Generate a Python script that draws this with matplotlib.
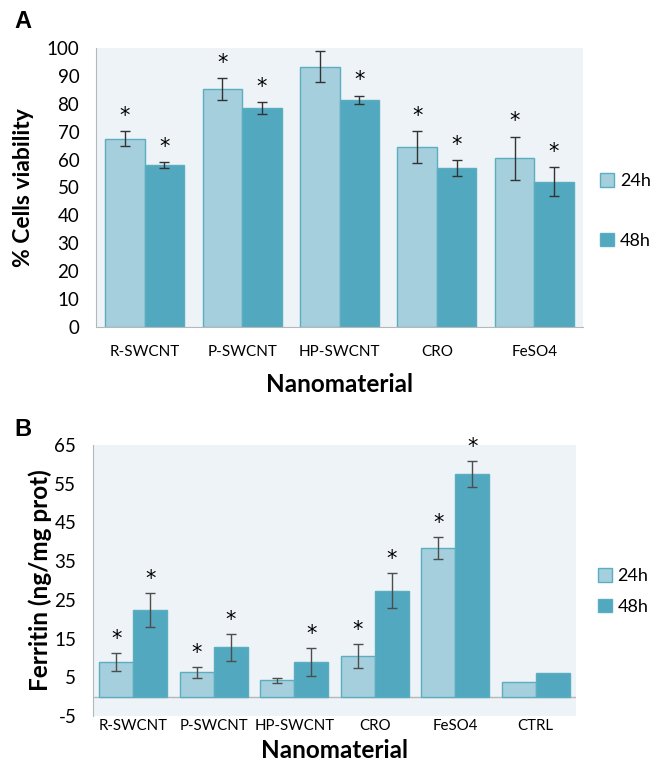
import numpy as np
import matplotlib
matplotlib.use("Agg")
import matplotlib.pyplot as plt

plt.rcParams['font.family'] = ['Lato', 'DejaVu Sans']
plt.rcParams['axes.unicode_minus'] = False

# panel A: cell viability
cats_a = ["R-SWCNT", "P-SWCNT", "HP-SWCNT", "CRO", "FeSO4"]
via_24 = [67.5, 85.3, 93.3, 64.4, 60.5]
via_24_err = [2.8, 4.0, 5.6, 5.7, 7.7]
via_48 = [58.0, 78.5, 81.5, 57.0, 52.0]
via_48_err = [1.0, 2.0, 1.4, 2.8, 5.2]
star_a_24 = [True, True, False, True, True]
star_a_48 = [True, True, True, True, True]

# panel B: ferritin
cats_b = ["R-SWCNT", "P-SWCNT", "HP-SWCNT", "CRO", "FeSO4", "CTRL"]
fer_24 = [9.0, 6.3, 4.2, 10.5, 38.4, 3.7]
fer_24_err = [2.3, 1.4, 0.7, 3.2, 2.8, 0]
fer_48 = [22.4, 12.8, 9.0, 27.4, 57.5, 6.0]
fer_48_err = [4.3, 3.5, 3.6, 4.5, 3.3, 0]
star_b_24 = [True, True, False, True, True, False]
star_b_48 = [True, True, True, True, True, False]

c24 = "#a6cfdd"
c48 = "#52a8bf"
edge = "#5aaebf"
bg = "#edf3f6"
spine = "#b5b8ba"

fig = plt.figure(figsize=(6.51, 7.63), dpi=100)


def panel(ax, cats, v24, e24, v48, e48, s24, s48, w, ecol, star_off):
    x = np.arange(len(cats))
    ax.set_facecolor(bg)
    ax.bar(x - w / 2, v24, w, color=c24, edgecolor=edge, linewidth=1, label="24h", zorder=2)
    ax.bar(x + w / 2, v48, w, color=c48, edgecolor=edge, linewidth=1, label="48h", zorder=2)
    for xs, v, e, s in [(x - w / 2, v24, e24, s24), (x + w / 2, v48, e48, s48)]:
        m = np.array(e) > 0
        ax.errorbar(xs[m], np.array(v)[m], yerr=np.array(e)[m], fmt="none",
                    ecolor=ecol, elinewidth=1, capsize=3.5, capthick=1, zorder=3)
        for xi, vi, ei, si in zip(xs, v, e, s):
            if si:
                ax.annotate("*", (xi, vi + ei), xytext=(0, star_off), textcoords="offset points",
                            ha="center", va="center", fontsize=15, family="DejaVu Sans", zorder=4)
    ax.set_xticks(x)
    ax.set_xticklabels(cats)
    ax.set_xlim(-0.5, len(cats) - 0.5)
    for k in ["top", "right"]:
        ax.spines[k].set_visible(False)
    ax.spines["left"].set_color(spine)
    ax.spines["bottom"].set_color(spine)
    ax.tick_params(axis="both", length=0)
    ax.tick_params(axis="y", labelsize=13.5, pad=12)
    ax.tick_params(axis="x", labelsize=11)
    ax.set_xlabel("Nanomaterial", fontsize=17.5, fontweight="bold")
    return x


ax1 = fig.add_axes([96 / 651, 1 - 327 / 763, 487 / 651, 279 / 763])
panel(ax1, cats_a, via_24, via_24_err, via_48, via_48_err, star_a_24, star_a_48, 0.405, "#333333", 11)
ax1.set_ylim(0, 100)
ax1.set_yticks(np.arange(0, 101, 10))
ax1.tick_params(axis="x", pad=13)
ax1.set_ylabel("% Cells viability", fontsize=16.5, fontweight="bold", labelpad=9)
ax1.xaxis.set_label_coords(0.5, -0.165)
ax1.legend(loc="center left", bbox_to_anchor=(1.02, 0.416), frameon=False, fontsize=13,
           handlelength=0.8, handleheight=0.8, handletextpad=0.3, labelspacing=2.4,
           borderaxespad=0)

ax2 = fig.add_axes([93 / 651, 1 - 716 / 763, 483 / 651, 271 / 763])
panel(ax2, cats_b, fer_24, fer_24_err, fer_48, fer_48_err, star_b_24, star_b_48, 0.42, "#4d4d4d", 10)
ax2.set_ylim(-5, 65)
ax2.set_yticks(np.arange(-5, 66, 10))
ax2.axhline(0, color=spine, linewidth=1, zorder=1)
ax2.spines["bottom"].set_visible(False)
ax2.tick_params(axis="x", pad=2, labelsize=10.8)
ax2.set_ylabel("Ferritin (ng/mg prot)", fontsize=17.5, fontweight="bold", labelpad=2)
ax2.xaxis.set_label_coords(0.5, -0.085)
ax2.legend(loc="center left", bbox_to_anchor=(1.03, 0.46), frameon=False, fontsize=13,
           handlelength=0.8, handleheight=0.8, handletextpad=0.3, labelspacing=0.8,
           borderaxespad=0)

fig.text(14 / 651, 1 - 21 / 763, "A", fontsize=17, fontweight="bold",
         family="Liberation Sans", ha="left", va="center")
fig.text(14 / 651, 1 - 429 / 763, "B", fontsize=17, fontweight="bold",
         family="Liberation Sans", ha="left", va="center")

fig.savefig("out.png", dpi=100)
